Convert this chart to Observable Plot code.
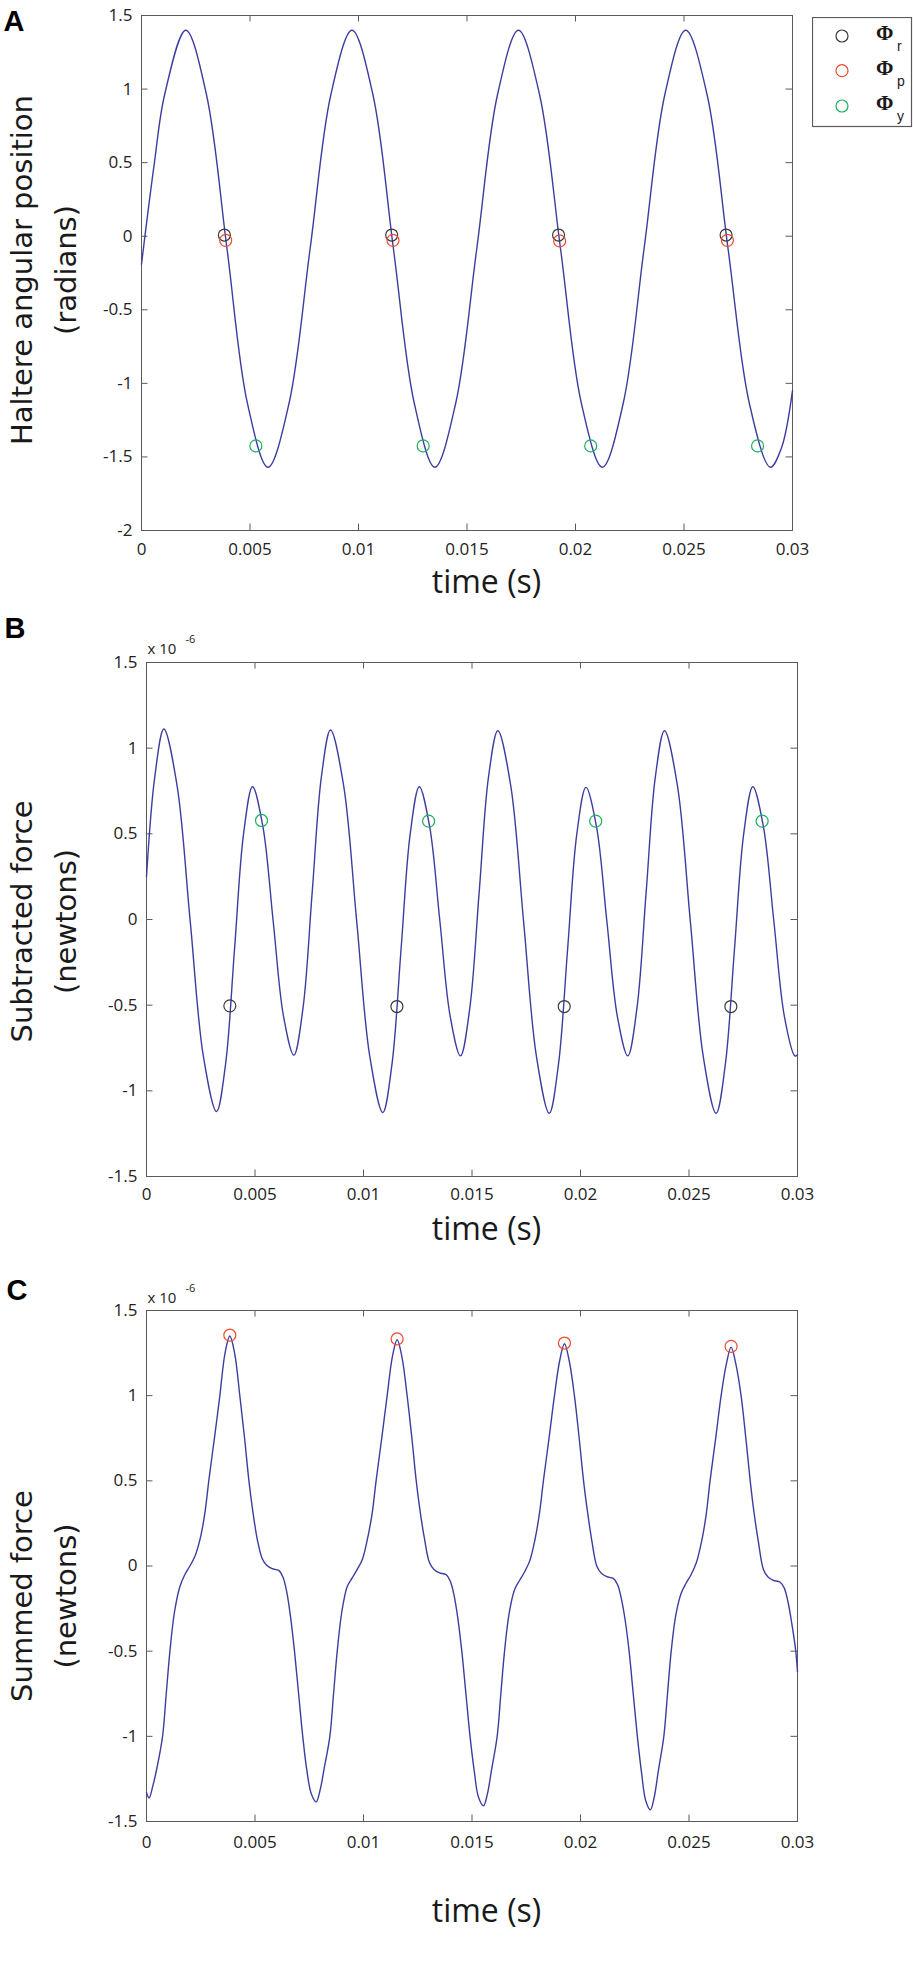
<!DOCTYPE html>
<html><head><meta charset="utf-8">
<script src="https://cdn.jsdelivr.net/npm/d3@7"></script>
<script src="https://cdn.jsdelivr.net/npm/@observablehq/plot@0.6"></script>
<style>
body{margin:0;background:#fff;}
#fig{position:relative;width:913px;height:1981px;overflow:hidden;background:#fff;}
#fig svg{display:block;}
#legend{position:absolute;left:812px;top:17px;}
</style></head><body><div id="fig"></div>
<script>
// ---------- data ----------
const xTicks = [0, 0.005, 0.01, 0.015, 0.02, 0.025, 0.03];
const aTicks = [-2, -1.5, -1, -0.5, 0, 0.5, 1, 1.5];
const bcTicks = [-1.5, -1, -0.5, 0, 0.5, 1, 1.5];

// Panel A: haltere angular position (radians)
const aTime = [0, 0.00058, 0.00107, 0.00204,
  0.00299, 0.00394, 0.00488, 0.00583,
  0.00680, 0.00777, 0.00873, 0.00970,
  0.01066, 0.01161, 0.01257, 0.01352,
  0.01448, 0.01545, 0.01641, 0.01737,
  0.01834, 0.01931, 0.02027, 0.02124,
  0.02220, 0.02316, 0.02412, 0.02508,
  0.02606, 0.02703, 0.02801, 0.02898,
  0.02949, 0.03];
const aAngle = [-0.19, 0.483, 0.965, 1.40,
  0.965, -0.085, -1.135, -1.57,
  -1.135, -0.085, 0.965, 1.40,
  0.965, -0.085, -1.135, -1.57,
  -1.135, -0.085, 0.965, 1.40,
  0.965, -0.085, -1.135, -1.57,
  -1.135, -0.085, 0.965, 1.40,
  0.965, -0.085, -1.135, -1.57,
  -1.44, -1.05];
const aRollTime = [0.00382, 0.01153, 0.01922, 0.02694];
const aRollValue = [0.008, 0.008, 0.008, 0.008];
const aPitchTime = [0.00388, 0.01159, 0.01927, 0.02700];
const aPitchValue = [-0.028, -0.028, -0.032, -0.028];
const aYawTime = [0.00527, 0.01298, 0.0207, 0.02839];
const aYawValue = [-1.425, -1.425, -1.425, -1.425];

// Panel B: subtracted force (x 1e-6 N)
const bTime = [0, 0.00038, 0.0008,
  0.001407, 0.002013, 0.00262, 0.003226,
  0.003641, 0.004056, 0.00447, 0.004885,
  0.005361, 0.005838, 0.006314, 0.00679,
  0.007213, 0.007635, 0.008058, 0.00848,
  0.009083, 0.009685, 0.010288, 0.01089,
  0.01131, 0.01173, 0.01215, 0.01257,
  0.013045, 0.01352, 0.013995, 0.01447,
  0.0149, 0.01533, 0.01576, 0.01619,
  0.016783, 0.017375, 0.017968, 0.01856,
  0.018983, 0.019405, 0.019828, 0.02025,
  0.020733, 0.021215, 0.021698, 0.02218,
  0.022603, 0.023025, 0.023448, 0.02387,
  0.024465, 0.02506, 0.025655, 0.02625,
  0.026673, 0.027095, 0.027518, 0.02794,
  0.028425, 0.02891, 0.029395, 0.02988,
  0.03];
const bForce = [0.25, 0.831, 1.112,
  0.783, -0.008, -0.798, -1.121,
  -0.847, -0.175, 0.497, 0.775,
  0.545, -0.01, -0.565, -0.792,
  -0.516, 0.158, 0.831, 1.106,
  0.783, -0.008, -0.798, -1.127,
  -0.847, -0.175, 0.497, 0.775,
  0.545, -0.01, -0.565, -0.796,
  -0.516, 0.158, 0.831, 1.102,
  0.783, -0.008, -0.798, -1.131,
  -0.847, -0.175, 0.497, 0.771,
  0.545, -0.01, -0.565, -0.796,
  -0.516, 0.158, 0.831, 1.102,
  0.783, -0.008, -0.798, -1.131,
  -0.847, -0.175, 0.497, 0.775,
  0.545, -0.01, -0.565, -0.796,
  -0.79];
const bRollTime = [0.00384, 0.01154, 0.01925, 0.02693];
const bRollValue = [-0.504, -0.508, -0.508, -0.508];
const bYawTime = [0.0053, 0.013, 0.0207, 0.02837];
const bYawValue = [0.578, 0.574, 0.574, 0.574];

// Panel C: summed force (x 1e-6 N)
const cTime = [0, 0.00012, 0.00029, 0.00049, 0.00074, 0.00091, 0.00108, 0.00129, 0.00154, 0.00177,
  0.00200, 0.00224, 0.00249, 0.00269, 0.00287, 0.00314, 0.00338, 0.00362, 0.00384,
  0.00406, 0.0043, 0.00452, 0.00472, 0.00489, 0.0051, 0.00533, 0.00554, 0.00579, 0.00609,
  0.00629, 0.00646, 0.00664, 0.00682, 0.00701, 0.0072, 0.00739, 0.00759, 0.00782,
  0.008, 0.0082, 0.00845, 0.00862, 0.00879, 0.009, 0.00925, 0.00948, 0.00971, 0.00995,
  0.0102, 0.0104, 0.01058, 0.01085, 0.01109, 0.01133, 0.01155,
  0.01177, 0.01201, 0.01223, 0.01243, 0.0126, 0.01281, 0.01304, 0.01325, 0.0135, 0.0138,
  0.014, 0.01417, 0.01435, 0.01453, 0.01472, 0.01491, 0.0151, 0.0153, 0.01553,
  0.01571, 0.01591, 0.01616, 0.01633, 0.0165, 0.01671, 0.01696, 0.01719, 0.01742, 0.01766,
  0.01791, 0.01811, 0.01829, 0.01856, 0.0188, 0.01904, 0.01926,
  0.01948, 0.01972, 0.01994, 0.02014, 0.02031, 0.02052, 0.02075, 0.02096, 0.02121, 0.02151,
  0.02171, 0.02188, 0.02206, 0.02224, 0.02243, 0.02262, 0.02281, 0.02301, 0.02322,
  0.02339, 0.02359, 0.02384, 0.02401, 0.02418, 0.02439, 0.02464, 0.02487, 0.0251, 0.02534,
  0.02559, 0.02579, 0.02597, 0.02624, 0.02648, 0.02672, 0.02694,
  0.02716, 0.0274, 0.02762, 0.02782, 0.02799, 0.0282, 0.02843, 0.02864, 0.02889, 0.02919,
  0.02939, 0.02956, 0.02974, 0.02992, 0.03];
const cForce = [-1.33, -1.362, -1.292, -1.18, -1.0, -0.75, -0.5, -0.27, -0.12, -0.05,
  0.0, 0.06, 0.17, 0.31, 0.5, 0.76, 1.0, 1.25, 1.35,
  1.25, 1.0, 0.75, 0.5, 0.33, 0.16, 0.044, 0.004, -0.016, -0.026,
  -0.066, -0.15, -0.30, -0.5, -0.75, -1.0, -1.2, -1.335, -1.385,
  -1.315, -1.18, -1.0, -0.75, -0.5, -0.27, -0.12, -0.07, -0.02, 0.04,
  0.17, 0.31, 0.5, 0.76, 1.0, 1.228, 1.328,
  1.228, 1.0, 0.75, 0.5, 0.33, 0.16, 0.02, -0.02, -0.04, -0.05,
  -0.09, -0.17, -0.31, -0.5, -0.75, -1.0, -1.2, -1.358, -1.408,
  -1.338, -1.19, -1.0, -0.75, -0.5, -0.28, -0.14, -0.085, -0.035, 0.03,
  0.16, 0.31, 0.5, 0.76, 1.0, 1.205, 1.305,
  1.205, 1.0, 0.75, 0.5, 0.33, 0.15, 0.0, -0.043, -0.063, -0.073,
  -0.11, -0.19, -0.32, -0.5, -0.75, -1.0, -1.21, -1.38, -1.432,
  -1.362, -1.2, -1.0, -0.75, -0.5, -0.29, -0.16, -0.1, -0.05, 0.02,
  0.15, 0.3, 0.5, 0.76, 1.0, 1.185, 1.285,
  1.185, 1.0, 0.75, 0.5, 0.32, 0.14, -0.02, -0.064, -0.084, -0.094,
  -0.13, -0.21, -0.34, -0.5, -0.62];
const cPitchTime = [0.00384, 0.01155, 0.01926, 0.02694];
const cPitchValue = [1.355, 1.333, 1.309, 1.289];

const legendLabels = ["r", "p", "y"];

// ---------- styling ----------
const lineColor = "#3d3d9f";
const rollColor = "#3a3a3a", pitchColor = "#f04b2d", yawColor = "#1eae5e";
const frameColor = "#5a5a5a";
const tickFont = "'Open Sans', sans-serif";
const zip = (t, v) => t.map((d, i) => ({t: d, v: v[i]}));

function makePanel(o) {
  const plotH = o.height - o.mt - o.mb;
  const plotW = 913 - o.ml - o.mr;
  const tl = 6.5;
  const marks = [
    Plot.tickX(xTicks, {x: d => d, insetTop: plotH - tl, stroke: frameColor}),
    Plot.tickX(xTicks, {x: d => d, insetBottom: plotH - tl, stroke: frameColor}),
    Plot.tickY(o.yTicks, {y: d => d, insetRight: plotW - tl, stroke: frameColor}),
    Plot.tickY(o.yTicks, {y: d => d, insetLeft: plotW - tl, stroke: frameColor}),
    Plot.frame({stroke: frameColor, strokeWidth: 1}),
    Plot.axisX({ticks: xTicks, tickSize: 0, tickPadding: o.xPad, tickFormat: d => String(d), label: null, fontSize: 17, fill: "#222"}),
    Plot.axisY({ticks: o.yTicks, tickSize: 0, tickPadding: 9, tickFormat: d => String(d), label: null, fontSize: 17, fill: "#222"}),
    Plot.line(o.line, {x: "t", y: "v", curve: "catmull-rom", stroke: lineColor, strokeWidth: 1.4}),
    ...o.markers.map(m => Plot.dot(m.data, {x: "t", y: "v", r: 6, stroke: m.color, fill: "none", strokeWidth: 1.2})),
    Plot.text([o.ylab1], {text: d => d, frameAnchor: "left", rotate: -90, textAnchor: "middle", lineAnchor: "bottom",
      dx: 31 - o.ml, dy: o.ylabDy, fontFamily: "'DejaVu Sans', sans-serif", fontSize: 29, fill: "#1a1a1a"}),
    Plot.text([o.ylab2], {text: d => d, frameAnchor: "left", rotate: -90, textAnchor: "middle", lineAnchor: "bottom",
      dx: 75 - o.ml, dy: o.ylabDy, fontFamily: "'DejaVu Sans', sans-serif", fontSize: 29, fill: "#1a1a1a"}),
    Plot.text(["time (s)"], {text: d => d, frameAnchor: "bottom", textAnchor: "middle", lineAnchor: "bottom",
      dx: o.xlabDx, dy: o.xlabDy, fontFamily: tickFont, fontSize: 32, fill: "#1a1a1a"}),
    Plot.text([o.letter], {text: d => d, frameAnchor: "top-left", textAnchor: "start", lineAnchor: "bottom",
      dx: o.letterX - o.ml, dy: o.letterBase - o.mt, fontFamily: "'Liberation Sans', Arial, sans-serif", fontWeight: "bold", fontSize: 29, fill: "#000"})
  ];
  if (o.mult) {
    marks.push(Plot.text(["x 10"], {text: d => d, frameAnchor: "top-left", textAnchor: "start", lineAnchor: "bottom",
      dx: 1, dy: o.multDy, fontFamily: tickFont, fontSize: 15, fill: "#222"}));
    marks.push(Plot.text(["-6"], {text: d => d, frameAnchor: "top-left", textAnchor: "start", lineAnchor: "bottom",
      dx: 39, dy: o.multDy - 11, fontFamily: tickFont, fontSize: 11, fill: "#222"}));
  }
  return Plot.plot({
    width: 913, height: o.height,
    marginTop: o.mt, marginBottom: o.mb, marginLeft: o.ml, marginRight: o.mr,
    x: {domain: [0, 0.03]},
    y: {domain: o.yDomain},
    style: {fontFamily: tickFont, fontSize: "17px", color: "#222", background: "transparent", overflow: "visible"},
    marks
  });
}

const fig = document.getElementById("fig");

fig.appendChild(makePanel({
  height: 600, mt: 15, mb: 70, ml: 141, mr: 121,
  yDomain: [-2, 1.5], yTicks: aTicks, xPad: 12,
  line: zip(aTime, aAngle),
  markers: [
    {data: zip(aRollTime, aRollValue), color: rollColor},
    {data: zip(aPitchTime, aPitchValue), color: pitchColor},
    {data: zip(aYawTime, aYawValue), color: yawColor}
  ],
  ylab1: "Haltere angular position", ylab2: "(radians)", ylabDy: -3,
  xlabDx: 19.5, xlabDy: 62,
  letter: "A", letterX: 3, letterBase: 30
}));

fig.appendChild(makePanel({
  height: 660, mt: 62, mb: 84, ml: 146, mr: 116,
  yDomain: [-1.5, 1.5], yTicks: bcTicks, xPad: 11.5,
  line: zip(bTime, bForce),
  markers: [
    {data: zip(bRollTime, bRollValue), color: rollColor},
    {data: zip(bYawTime, bYawValue), color: yawColor}
  ],
  ylab1: "Subtracted force", ylab2: "(newtons)", ylabDy: 2,
  xlabDx: 14.5, xlabDy: 63,
  letter: "B", letterX: 4, letterBase: 37,
  mult: true, multDy: -9
}));

fig.appendChild(makePanel({
  height: 721, mt: 50, mb: 160, ml: 146, mr: 116,
  yDomain: [-1.5, 1.5], yTicks: bcTicks, xPad: 14,
  line: zip(cTime, cForce),
  markers: [
    {data: zip(cPitchTime, cPitchValue), color: pitchColor}
  ],
  ylab1: "Summed force", ylab2: "(newtons)", ylabDy: 30,
  xlabDx: 14.5, xlabDy: 100,
  letter: "C", letterX: 6, letterBase: 39,
  mult: true, multDy: -8
}));

// legend box (panel A)
const leg = d3.select(fig).append("svg").attr("id", "legend").attr("width", 101).attr("height", 112);
leg.append("rect").attr("x", 0.5).attr("y", 0.5).attr("width", 99).attr("height", 109)
  .attr("fill", "#fff").attr("stroke", frameColor).attr("stroke-width", 1.2);
const legColors = [rollColor, pitchColor, yawColor];
const legY = [19, 53.7, 89];
legendLabels.forEach((lab, i) => {
  leg.append("circle").attr("cx", 30).attr("cy", legY[i]).attr("r", 6)
    .attr("fill", "none").attr("stroke", legColors[i]).attr("stroke-width", 1.2);
  leg.append("text").attr("x", 64).attr("y", legY[i] + 4)
    .attr("font-family", "'Liberation Serif', 'DejaVu Serif', serif").attr("font-weight", "bold")
    .attr("font-size", 21).attr("fill", "#1a1a1a").text("Φ");
  leg.append("text").attr("x", 85).attr("y", legY[i] + 15)
    .attr("font-family", "'Liberation Sans', Arial, sans-serif").attr("font-size", 14)
    .attr("fill", "#1a1a1a").text(lab);
});
</script></body></html>
